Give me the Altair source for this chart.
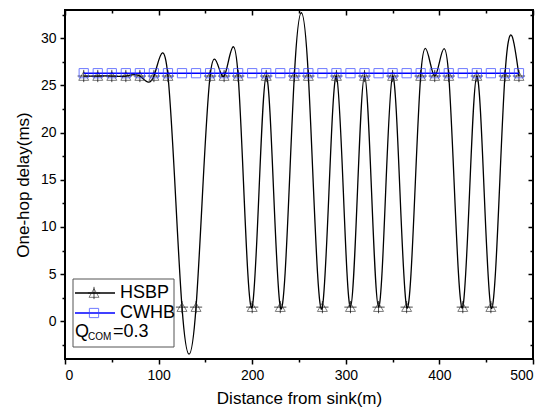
import altair as alt
import pandas as pd

# Node distance from the sink (m)
distance = [20, 35, 50, 65, 80, 95, 110, 125, 140, 155, 170, 185, 200, 215, 230, 245,
            260, 275, 290, 305, 320, 335, 350, 365, 380, 395, 410, 425, 440, 455, 470, 485]

# One-hop delay (ms)
hsbp_delay = [26.0, 26.0, 26.0, 26.0, 26.0, 26.0, 26.0, 1.5, 1.5, 26.0, 26.0, 26.0, 1.5, 26.0, 1.5, 26.0,
              26.0, 1.5, 26.0, 1.5, 26.0, 1.5, 26.0, 1.5, 26.0, 26.0, 26.0, 1.5, 26.0, 1.5, 26.0, 26.0]
cwhb_delay = [26.3, 26.3, 26.3, 26.3, 26.3, 26.3, 26.3, 26.3, 26.3, 26.3, 26.3, 26.3, 26.3, 26.3, 26.3, 26.3,
              26.3, 26.3, 26.3, 26.3, 26.3, 26.3, 26.3, 26.3, 26.3, 26.3, 26.3, 26.3, 26.3, 26.3, 26.3, 26.3]

x_major = [0, 100, 200, 300, 400, 500]
x_minor = [50, 150, 250, 350, 450]
y_major = [0, 5, 10, 15, 20, 25, 30]
y_minor = [-2.5, 2.5, 7.5, 12.5, 17.5, 22.5, 27.5, 32.5]

FONT = "Liberation Sans"
W, H = 468, 349
TRI_SIZE = 100
CROSS_SIZE = 150
SQ_SIZE = 85

df = pd.DataFrame({"distance": distance, "hsbp": hsbp_delay, "cwhb": cwhb_delay})

x_scale = alt.Scale(domain=[0, 500], nice=False, zero=False)
y_scale = alt.Scale(domain=[-4, 33], nice=False, zero=False)

base = alt.Chart(df)


def x_axis_layer(axis):
    return base.mark_point(opacity=0).encode(
        x=alt.X("distance:Q", scale=x_scale, axis=axis),
        y=alt.Y("hsbp:Q", scale=y_scale, axis=None),
    )


def y_axis_layer(axis):
    return base.mark_point(opacity=0).encode(
        x=alt.X("distance:Q", scale=x_scale, axis=None),
        y=alt.Y("hsbp:Q", scale=y_scale, axis=axis),
    )


common = dict(domain=False, grid=False, tickColor="black", tickWidth=1.5)

bottom_major = x_axis_layer(alt.Axis(
    orient="bottom", values=x_major, tickSize=5, labelFont=FONT, labelFontSize=14,
    labelColor="black", labelPadding=4, title="Distance from sink(m)", titleFont=FONT,
    titleFontSize=17, titleFontWeight="normal", titleColor="black", titlePadding=8, **common))
bottom_minor = x_axis_layer(alt.Axis(
    orient="bottom", values=x_minor, tickSize=3, labels=False, title="", **common))
top_major = x_axis_layer(alt.Axis(
    orient="top", values=x_major, tickSize=5, offset=-5, labels=False, title="", **common))
top_minor = x_axis_layer(alt.Axis(
    orient="top", values=x_minor, tickSize=3, offset=-3, labels=False, title="", **common))

left_major = y_axis_layer(alt.Axis(
    orient="left", values=y_major, tickSize=5, labelFont=FONT, labelFontSize=14,
    labelColor="black", labelPadding=4, title="One-hop delay(ms)", titleFont=FONT,
    titleFontSize=17, titleFontWeight="normal", titleColor="black", titlePadding=8, **common))
left_minor = y_axis_layer(alt.Axis(
    orient="left", values=y_minor, tickSize=3, labels=False, title="", **common))
right_major = y_axis_layer(alt.Axis(
    orient="right", values=y_major, tickSize=5, offset=-5, labels=False, title="", **common))
right_minor = y_axis_layer(alt.Axis(
    orient="right", values=y_minor, tickSize=3, offset=-3, labels=False, title="", **common))

# HSBP: spline through the points, hollow triangles with a cross
hsbp_line = base.mark_line(color="black", strokeWidth=1.3, interpolate="natural", clip=True).encode(
    x=alt.X("distance:Q", scale=x_scale, axis=None),
    y=alt.Y("hsbp:Q", scale=y_scale, axis=None),
)
hsbp_tri = base.mark_point(shape="triangle-up", size=TRI_SIZE, filled=False, color="#444444",
                           strokeWidth=1).encode(
    x=alt.X("distance:Q", scale=x_scale, axis=None),
    y=alt.Y("hsbp:Q", scale=y_scale, axis=None),
)
hsbp_cross = base.mark_point(shape="M0,-1L0,1M-1,0L1,0", size=CROSS_SIZE, filled=False, color="black",
                             strokeWidth=1).encode(
    x=alt.X("distance:Q", scale=x_scale, axis=None),
    y=alt.Y("hsbp:Q", scale=y_scale, axis=None),
)

# CWHB: straight line with hollow squares
cwhb_line = base.mark_line(color="#0000ff", strokeWidth=1.5).encode(
    x=alt.X("distance:Q", scale=x_scale, axis=None),
    y=alt.Y("cwhb:Q", scale=y_scale, axis=None),
)
cwhb_sq = base.mark_point(shape="square", size=SQ_SIZE, filled=False, color="#3344ff",
                          strokeWidth=1).encode(
    x=alt.X("distance:Q", scale=x_scale, axis=None),
    y=alt.Y("cwhb:Q", scale=y_scale, axis=None),
)

# Legend box drawn in plot pixel space
one = pd.DataFrame({"k": [0]})
legend_box = alt.Chart(one).mark_rect(
    fill="white", stroke="#555555", strokeWidth=1).encode(
    x=alt.value(8), x2=alt.value(109), y=alt.value(269), y2=alt.value(337))

leg_hsbp_line = alt.Chart(one).mark_rule(color="black", strokeWidth=1.5).encode(
    x=alt.value(10), x2=alt.value(50), y=alt.value(283))
leg_hsbp_tri = alt.Chart(one).mark_point(
    shape="triangle-up", size=TRI_SIZE, filled=False, color="#444444", strokeWidth=1).encode(
    x=alt.value(29), y=alt.value(283))
leg_hsbp_cross = alt.Chart(one).mark_point(
    shape="M0,-1L0,1M-1,0L1,0", size=CROSS_SIZE, filled=False, color="black", strokeWidth=1).encode(
    x=alt.value(29), y=alt.value(283))
leg_cwhb_line = alt.Chart(one).mark_rule(color="#0000ff", strokeWidth=1.5).encode(
    x=alt.value(10), x2=alt.value(50), y=alt.value(303))
leg_cwhb_sq = alt.Chart(one).mark_point(
    shape="square", size=SQ_SIZE, filled=False, color="#3344ff", strokeWidth=1).encode(
    x=alt.value(29), y=alt.value(303))


def leg_text(txt, x, y, size):
    return alt.Chart(one).mark_text(
        align="left", baseline="middle", font=FONT, fontSize=size, color="black").encode(
        x=alt.value(x), y=alt.value(y), text=alt.value(txt))


legend = alt.layer(
    legend_box, leg_hsbp_line, leg_hsbp_tri, leg_hsbp_cross, leg_cwhb_line, leg_cwhb_sq,
    leg_text("HSBP", 55, 283, 18), leg_text("CWHB", 55, 303, 18),
    leg_text("Q", 10, 322, 18), leg_text("COM", 23, 327, 10), leg_text("=0.3", 48, 322, 18),
)

chart = alt.layer(
    bottom_major, bottom_minor, top_major, top_minor,
    left_major, left_minor, right_major, right_minor,
    hsbp_line, hsbp_tri, hsbp_cross, cwhb_line, cwhb_sq,
    legend,
).resolve_axis(x="independent", y="independent").properties(
    width=W, height=H,
    autosize=alt.AutoSizeParams(type="none"),
    padding={"left": 65, "top": 10, "right": 20, "bottom": 55},
    background="white",
).configure_view(stroke="black", strokeWidth=2)

chart.save("out.html", embed_options={"renderer": "svg", "actions": False})
